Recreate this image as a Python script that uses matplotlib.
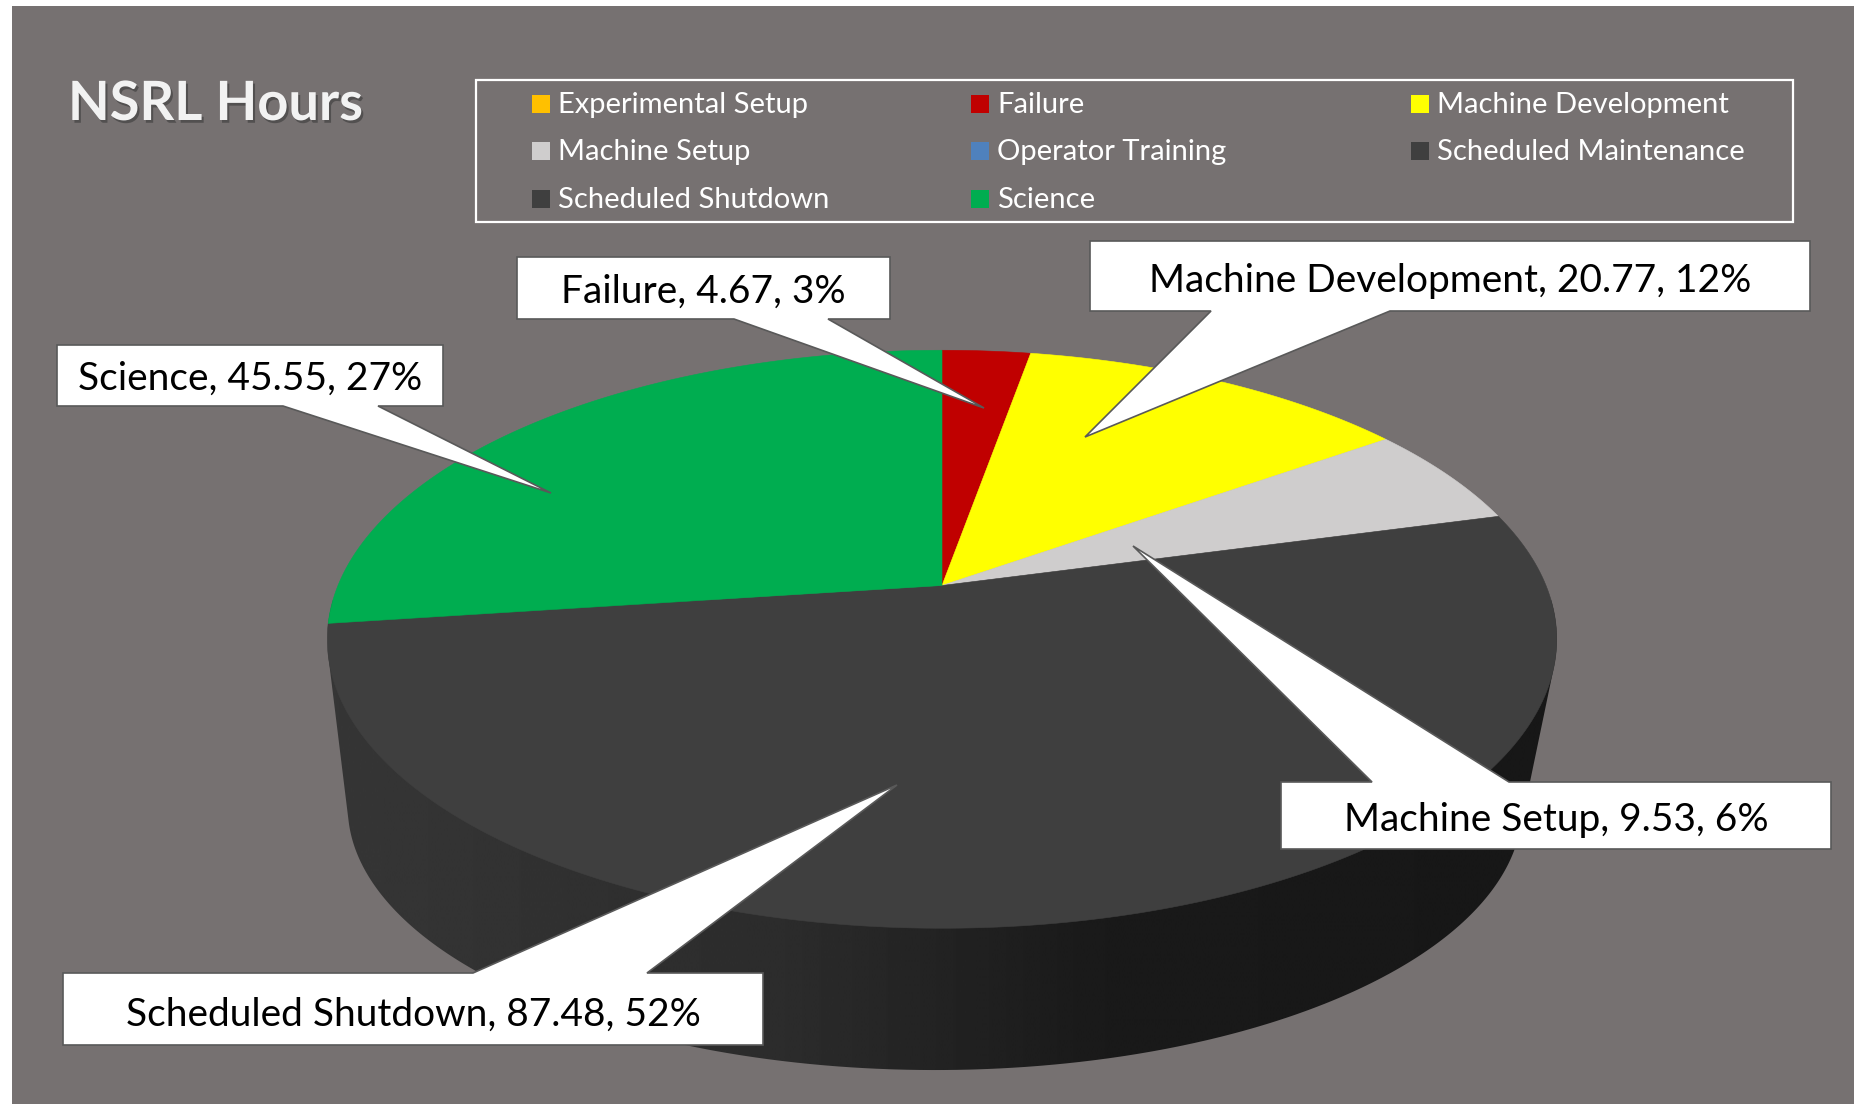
import numpy as np
import matplotlib
matplotlib.use('Agg')
import matplotlib.pyplot as plt
from matplotlib.patches import Polygon, Rectangle
import matplotlib.patheffects as pe

# ---------------------------------------------------------
# data
# ---------------------------------------------------------
names = ['Experimental Setup', 'Failure', 'Machine Development', 'Machine Setup',
         'Operator Training', 'Scheduled Maintenance', 'Scheduled Shutdown', 'Science']
hours = [0.0, 4.67, 20.77, 9.53, 0.0, 0.0, 87.48, 45.55]
colors = ['#FFC000', '#C00000', '#FFFF00', '#CFCDCD',
          '#4F81BD', '#3F3F3F', '#3F3F3F', '#00AD50']

bg = '#767171'

plt.rcParams['font.family'] = ['Lato', 'DejaVu Sans']

W, H = 1854, 1104
fig = plt.figure(figsize=(W / 100, H / 100), dpi=100, facecolor='white')
ax = fig.add_axes([0, 0, 1, 1])
ax.set_xlim(0, W)
ax.set_ylim(H, 0)
ax.axis('off')
ax.add_patch(Rectangle((12, 6), W - 12, H - 6, fc=bg, ec='none', zorder=0))


# ---------------------------------------------------------
# perspective disc, angle clockwise from 12 o'clock
# ---------------------------------------------------------
K = 0.186


def project(t, cx, apex_y, a, b):
    u, v = np.sin(t), np.cos(t)
    d = 1 + K * v
    return np.column_stack([cx + a * u / d, apex_y - b * v / d])


def top_disc(t):
    return project(t, 942, 585.5, 604, 279)


def bottom_disc(t):
    return project(t, 935, 758, 577, 254)


# side wall = hull of both rims, with a left to right shade
ring = np.linspace(0, 2 * np.pi, 720)
pts = np.vstack([top_disc(ring), bottom_disc(ring)])
dirs = np.linspace(0, 2 * np.pi, 720)
hull_idx = [np.argmax(pts @ np.array([np.cos(a), np.sin(a)])) for a in dirs]
wall = Polygon(pts[hull_idx], closed=True, fc='none', ec='none')
ax.add_patch(wall)
shade_x = [0.0, 0.37, 0.62, 1.0]
shade_v = [0x36, 0x2c, 0x1a, 0x17]
grad = np.interp(np.linspace(0, 1, 512), shade_x, shade_v).reshape(1, -1)
img = ax.imshow(grad, extent=(328, 1557, 1100, 600), cmap='gray', vmin=0, vmax=255,
                aspect='auto', zorder=1, interpolation='bilinear')
img.set_clip_path(wall)
ax.set_xlim(0, W)
ax.set_ylim(H, 0)

# top face slices
total = sum(hours)
start = 0.0
for value, color in zip(hours, colors):
    end = start + value / total * 2 * np.pi
    if value > 0:
        arc = top_disc(np.linspace(start, end, 200))
        ax.add_patch(Polygon(np.vstack([[942, 585.5], arc]), closed=True, fc=color, ec=color,
                             lw=0.4, zorder=2))
    start = end


# ---------------------------------------------------------
# title and legend
# ---------------------------------------------------------
ax.text(68, 120, 'NSRL Hours', fontsize=39, fontweight='bold', color='#F2F2F2',
        va='baseline', ha='left', zorder=5,
        path_effects=[pe.withSimplePatchShadow(offset=(1.5, -2), shadow_rgbFace='#3a3a3a', alpha=0.6)])

ax.add_patch(Rectangle((476, 80), 1317, 142, fc='none', ec='white', lw=1.6, zorder=5))
col_x = [532, 971, 1411]
row_y = [104, 151, 199]
for i, (name, color) in enumerate(zip(names, colors)):
    lx = col_x[i % 3]
    ly = row_y[i // 3]
    ax.add_patch(Rectangle((lx, ly - 9), 18, 18, fc=color, ec='none', zorder=5))
    ax.text(lx + 26, ly + 9, name, fontsize=21, color='white', va='baseline', ha='left', zorder=5)

# ---------------------------------------------------------
# callouts: box (x0, y0, x1, y1), tail base on the box edge, tip
# ---------------------------------------------------------
callouts = {
    'Failure': ((517, 257, 890, 319), (734, 828), (984, 408)),
    'Machine Development': ((1090, 241, 1810, 311), (1211, 1390), (1085, 437)),
    'Machine Setup': ((1281, 782, 1831, 849), (1372, 1509), (1133, 546)),
    'Scheduled Shutdown': ((63, 973, 763, 1045), (473, 647), (897, 785)),
    'Science': ((57, 345, 443, 406), (283, 378), (551, 493)),
}
for name, (box, base, tip) in callouts.items():
    x0, y0, x1, y1 = box
    if tip[1] < y0:
        outline = [(x0, y0), (base[0], y0), tip, (base[1], y0), (x1, y0), (x1, y1), (x0, y1)]
    else:
        outline = [(x0, y0), (x1, y0), (x1, y1), (base[1], y1), tip, (base[0], y1), (x0, y1)]
    ax.add_patch(Polygon(outline, closed=True, fc='white', ec='#595959', lw=1.2, zorder=6))
    value = hours[names.index(name)]
    pct = round(value / total * 100)
    ax.text((x0 + x1) / 2, (y0 + y1) / 2 + 0.235 * (y1 - y0), f'{name}, {value:.2f}, {pct}%',
            fontsize=28, color='black', ha='center', va='baseline', zorder=7)

fig.savefig('out.png', dpi=100, facecolor='white')
